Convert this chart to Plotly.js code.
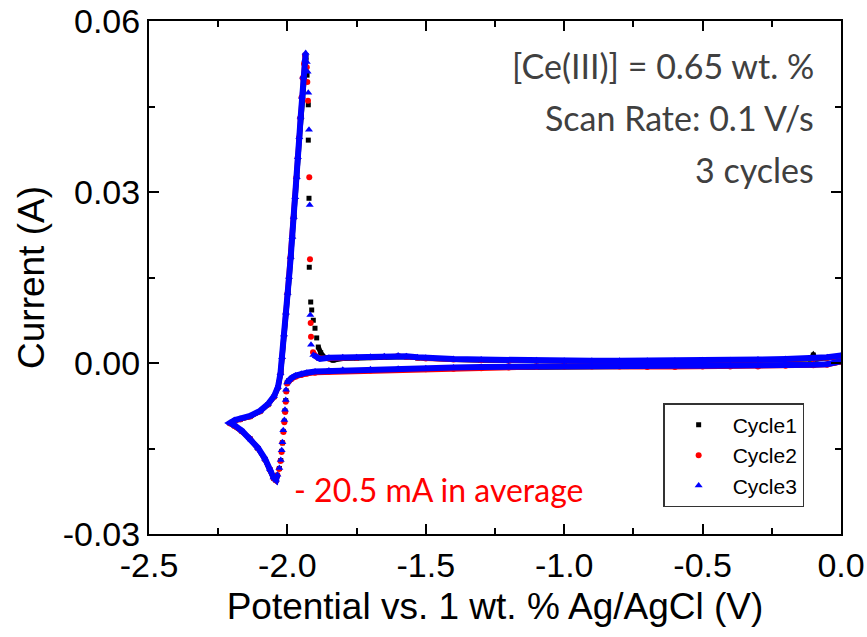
<!DOCTYPE html>
<html>
<head>
<meta charset="utf-8">
<script src="https://cdn.plot.ly/plotly-3.0.1.min.js"></script>
<style>html,body{margin:0;padding:0;background:#fff;}#chart{width:867px;height:637px;}</style>
</head>
<body>
<div id="chart"></div>
<script>
// ---------- DATA ----------
const seriesNames = ['Cycle1', 'Cycle2', 'Cycle3'];

const cycle1V = [0.000,-0.050,-0.100,-0.200,-0.300,-0.400,-0.500,-0.600,-0.700,-0.800,-0.900,-1.000,-1.100,-1.200,-1.300,-1.400,-1.500,-1.600,-1.700,-1.800,-1.850,-1.900,-1.930,-1.950,-1.970,-1.985,-1.995,-2.001,
 -2.004,-2.006,-2.009,-2.011,-2.015,-2.018,-2.021,-2.024,-2.029,-2.036,-2.041,
 -2.050,-2.063,-2.081,-2.106,-2.135,-2.164,-2.189,-2.207,
 -2.190,-2.171,-2.135,-2.099,-2.070,-2.048,-2.034,-2.024,-2.018,-2.011,-2.004,-1.998,-1.993,-1.987,-1.981,-1.976,-1.971,-1.966,-1.961,-1.956,-1.951,-1.946,-1.942,-1.937,-1.933,
 -1.929,-1.9245,-1.9245,-1.922,-1.921,-1.9158,-1.9122,-1.9064,-1.9003,-1.8942,-1.8884,-1.8797,-1.8642,-1.835,
 -1.800,-1.750,-1.700,-1.650,-1.600,-1.570,-1.530,-1.500,-1.400,-1.300,-1.200,-1.100,-1.000,-0.900,-0.800,-0.700,-0.600,-0.500,-0.400,-0.300,-0.200,-0.110,-0.100,-0.090,-0.050,0.000];
const cycle1I = [0.0002,-0.0002,-0.0003,-0.0004,-0.0005,-0.0005,-0.0005,-0.0006,-0.0006,-0.0006,-0.0006,-0.0006,-0.0007,-0.0007,-0.0008,-0.0009,-0.0010,-0.0011,-0.0012,-0.0013,-0.0014,-0.0016,-0.0018,-0.0020,-0.0023,-0.0027,-0.0031,-0.0035,
 -0.0049,-0.0066,-0.0084,-0.0102,-0.0120,-0.0140,-0.0155,-0.0171,-0.0185,-0.0197,-0.0206,
 -0.0202,-0.0187,-0.0169,-0.0150,-0.0133,-0.0120,-0.0111,-0.0106,
 -0.0101,-0.0099,-0.0094,-0.0085,-0.0073,-0.0059,-0.0043,-0.0018,0.0010,0.0050,0.0088,0.0123,0.0151,0.0186,0.0221,0.0256,0.0291,0.0326,0.0361,0.0396,0.0431,0.0466,0.0497,0.0522,0.0536,
 0.0505,0.0453,0.0391,0.0289,0.0168,0.0107,0.0093,0.0075,0.0061,0.0044,0.0028,0.0018,0.0009,0.0005,
 0.0008,0.0009,0.0010,0.0011,0.0012,0.0011,0.0009,0.0008,0.0006,0.0005,0.0004,0.0004,0.0003,0.0003,0.0003,0.0003,0.0003,0.0004,0.0004,0.0005,0.0006,0.0007,0.0014,0.0007,0.0009,0.0011];

const cycle2V = [0.000,-0.050,-0.100,-0.200,-0.300,-0.400,-0.500,-0.600,-0.700,-0.800,-0.900,-1.000,-1.100,-1.200,-1.300,-1.400,-1.500,-1.600,-1.700,-1.800,-1.850,-1.900,-1.930,-1.950,-1.970,-1.985,-1.995,-2.001,
 -2.004,-2.006,-2.008,-2.011,-2.014,-2.018,-2.021,-2.025,-2.030,-2.036,-2.041,
 -2.050,-2.063,-2.081,-2.106,-2.135,-2.164,-2.189,-2.207,
 -2.190,-2.171,-2.135,-2.099,-2.070,-2.048,-2.034,-2.025,-2.019,-2.013,-2.006,-2.000,-1.995,-1.989,-1.983,-1.978,-1.973,-1.968,-1.963,-1.958,-1.954,-1.949,-1.945,-1.940,-1.936,
 -1.930,-1.928,-1.9256,-1.921,-1.9184,-1.9159,-1.9147,-1.9075,-1.8895,
 -1.850,-1.800,-1.750,-1.700,-1.650,-1.600,-1.570,-1.530,-1.500,-1.400,-1.300,-1.200,-1.100,-1.000,-0.900,-0.800,-0.700,-0.600,-0.500,-0.400,-0.300,-0.200,-0.100,-0.050,0.000];
const cycle2I = [0.0002,-0.0003,-0.0004,-0.0005,-0.0006,-0.0006,-0.0006,-0.0007,-0.0007,-0.0006,-0.0006,-0.0006,-0.0007,-0.0008,-0.0009,-0.0010,-0.0011,-0.0012,-0.0013,-0.0014,-0.0015,-0.0017,-0.0019,-0.0021,-0.0024,-0.0028,-0.0032,-0.0036,
 -0.0050,-0.0068,-0.0086,-0.0104,-0.0121,-0.0140,-0.0156,-0.0172,-0.0186,-0.0197,-0.0206,
 -0.0202,-0.0187,-0.0169,-0.0150,-0.0133,-0.0120,-0.0111,-0.0106,
 -0.0101,-0.0099,-0.0094,-0.0085,-0.0073,-0.0059,-0.0043,-0.0019,0.0009,0.0048,0.0087,0.0122,0.0150,0.0185,0.0220,0.0255,0.0290,0.0325,0.0360,0.0395,0.0430,0.0466,0.0500,0.0525,0.0540,
 0.0519,0.0493,0.0460,0.0326,0.0182,0.0070,0.0046,0.0019,0.0009,
 0.0008,0.0009,0.0009,0.0010,0.0011,0.0012,0.0011,0.0009,0.0008,0.0006,0.0005,0.0004,0.0004,0.0003,0.0003,0.0003,0.0003,0.0003,0.0004,0.0004,0.0005,0.0006,0.0007,0.0009,0.0012];

const cycle3V = [0.000,-0.050,-0.100,-0.200,-0.300,-0.400,-0.500,-0.600,-0.700,-0.800,-0.900,-1.000,-1.100,-1.200,-1.300,-1.400,-1.500,-1.600,-1.700,-1.800,-1.850,-1.900,-1.930,-1.950,-1.970,-1.985,-1.995,-2.001,
 -2.005,-2.006,-2.0087,-2.011,-2.015,-2.018,-2.0206,-2.024,-2.029,-2.036,-2.041,
 -2.050,-2.063,-2.081,-2.106,-2.135,-2.164,-2.189,-2.207,
 -2.190,-2.171,-2.135,-2.099,-2.070,-2.048,-2.034,-2.025,-2.019,-2.012,-2.005,-1.999,-1.994,-1.988,-1.982,-1.977,-1.9715,-1.966,-1.962,-1.957,-1.952,-1.947,-1.943,-1.936,-1.934,
 -1.930,-1.927,-1.9245,-1.922,-1.9194,-1.9172,-1.9147,-1.9064,-1.882,
 -1.850,-1.800,-1.750,-1.700,-1.650,-1.600,-1.570,-1.530,-1.500,-1.400,-1.300,-1.200,-1.100,-1.000,-0.900,-0.800,-0.700,-0.600,-0.500,-0.400,-0.300,-0.200,-0.100,-0.050,0.000];
const cycle3I = [0.0003,-0.0002,-0.0003,-0.0004,-0.0004,-0.0004,-0.0005,-0.0005,-0.0005,-0.0005,-0.0005,-0.0005,-0.0006,-0.0006,-0.0007,-0.0008,-0.0009,-0.0010,-0.0011,-0.0012,-0.0013,-0.0015,-0.0017,-0.0019,-0.0022,-0.0026,-0.0030,-0.0034,
 -0.0047,-0.0065,-0.0082,-0.0100,-0.0118,-0.0139,-0.0153,-0.0170,-0.0184,-0.0196,-0.0205,
 -0.0201,-0.0186,-0.0168,-0.0149,-0.0132,-0.0119,-0.0110,-0.0105,
 -0.0100,-0.0098,-0.0093,-0.0084,-0.0072,-0.0058,-0.0042,-0.0018,0.0010,0.0050,0.0088,0.0123,0.0151,0.0186,0.0221,0.0256,0.0291,0.0326,0.0361,0.0396,0.0432,0.0467,0.0502,0.0532,0.0544,
 0.0528,0.0511,0.0474,0.0409,0.0277,0.0084,0.0032,0.0014,0.0007,
 0.0009,0.0010,0.0010,0.0011,0.0012,0.0013,0.0012,0.0010,0.0009,0.0007,0.0006,0.0005,0.0005,0.0004,0.0004,0.0004,0.0004,0.0004,0.0005,0.0005,0.0006,0.0007,0.0008,0.0010,0.0013];

const xTickVals = [-2.5, -2.0, -1.5, -1.0, -0.5, 0.0];
const xTickText = ['-2.5', '-2.0', '-1.5', '-1.0', '-0.5', '0.0'];
const yTickVals = [-0.03, 0.00, 0.03, 0.06];
const yTickText = ['-0.03', '0.00', '0.03', '0.06'];

const infoLines = ['[Ce(III)] = 0.65 wt. %', 'Scan Rate: 0.1 V/s', '3 cycles'];
const noteText = '- 20.5 mA in average';

// ---------- PLOT ----------
// Slowly changing stretches of a scan look like a solid band of markers;
// where the current falls quickly the sampled points separate. Draw a band
// only where the current does not drop sharply between successive points.
function bandOf(V, I) {
  const xs = [], ys = [];
  for (let k = 0; k < V.length; k++) {
    if (k > 0 && I[k] - I[k - 1] < -0.00101) { xs.push(null); ys.push(null); }
    xs.push(V[k]); ys.push(I[k]);
  }
  return {xs, ys};
}

const styles = [
  {color: '#000000', symbol: 'square', size: 5, band: 5},
  {color: '#ff0000', symbol: 'circle', size: 6, band: 5},
  {color: '#0000ff', symbol: 'triangle-up', size: 7, band: 6}
];
const allV = [cycle1V, cycle2V, cycle3V];
const allI = [cycle1I, cycle2I, cycle3I];

const traces = [];
for (let c = 0; c < 3; c++) {
  const b = bandOf(allV[c], allI[c]);
  traces.push({
    x: b.xs, y: b.ys, type: 'scatter', mode: 'lines', connectgaps: false,
    line: {color: styles[c].color, width: styles[c].band},
    showlegend: false, hoverinfo: 'skip'
  });
  traces.push({
    x: allV[c], y: allI[c], type: 'scatter', mode: 'markers', name: seriesNames[c],
    marker: {color: styles[c].color, symbol: styles[c].symbol, size: styles[c].size, line: {width: 0}}
  });
}

const arial = 'Arial, "Liberation Sans", sans-serif';
const axisFont = {family: arial, size: 34, color: '#000'};
const titleFont = {family: arial, size: 37, color: '#000'};
const noteFont = {family: 'Lato, "Open Sans", sans-serif', size: 34, color: '#404040'};

const annotations = infoLines.map((t, i) => ({
  text: t, xref: 'paper', yref: 'paper', x: 0.964, y: [0.914, 0.811, 0.7096][i],
  xanchor: 'right', yanchor: 'middle', showarrow: false, font: noteFont
}));
annotations.push({
  text: noteText, xref: 'paper', yref: 'paper', x: 0.207, y: 0.0858,
  xanchor: 'left', yanchor: 'middle', showarrow: false,
  font: {family: noteFont.family, size: 32, color: '#ff0000'}
});

const layout = {
  width: 867, height: 637,
  margin: {l: 149, r: 26, t: 21, b: 103},
  paper_bgcolor: '#ffffff', plot_bgcolor: '#ffffff',
  showlegend: true,
  legend: {
    x: 0.743, y: 0.255, xanchor: 'left', yanchor: 'top',
    bordercolor: '#333333', borderwidth: 1.5, bgcolor: '#ffffff',
    font: {family: arial, size: 21, color: '#000'},
    itemwidth: 58, tracegroupgap: 0
  },
  xaxis: {
    range: [-2.5, 0], tickmode: 'array', tickvals: xTickVals, ticktext: xTickText,
    ticks: 'inside', ticklen: 10, tickwidth: 2, tickcolor: '#000',
    showline: true, linewidth: 2, linecolor: '#000', mirror: 'ticks',
    showgrid: false, zeroline: false, tickfont: axisFont,
    minor: {tickmode: 'linear', tick0: -2.5, dtick: 0.25, ticks: 'inside', ticklen: 6, tickwidth: 2, tickcolor: '#000', showgrid: false},
    title: {text: 'Potential vs. 1 wt. % Ag/AgCl (V)', font: titleFont, standoff: 10},
    automargin: false
  },
  yaxis: {
    range: [-0.03, 0.06], tickmode: 'array', tickvals: yTickVals, ticktext: yTickText,
    ticks: 'inside', ticklen: 10, tickwidth: 2, tickcolor: '#000',
    showline: true, linewidth: 2, linecolor: '#000', mirror: 'ticks',
    showgrid: false, zeroline: false, tickfont: axisFont,
    minor: {tickmode: 'linear', tick0: -0.03, dtick: 0.015, ticks: 'inside', ticklen: 6, tickwidth: 2, tickcolor: '#000', showgrid: false},
    title: {text: 'Current (A)', font: titleFont, standoff: 7},
    automargin: false
  },
  annotations: annotations
};

Plotly.newPlot('chart', traces, layout, {displayModeBar: false, staticPlot: true});
</script>
</body>
</html>
